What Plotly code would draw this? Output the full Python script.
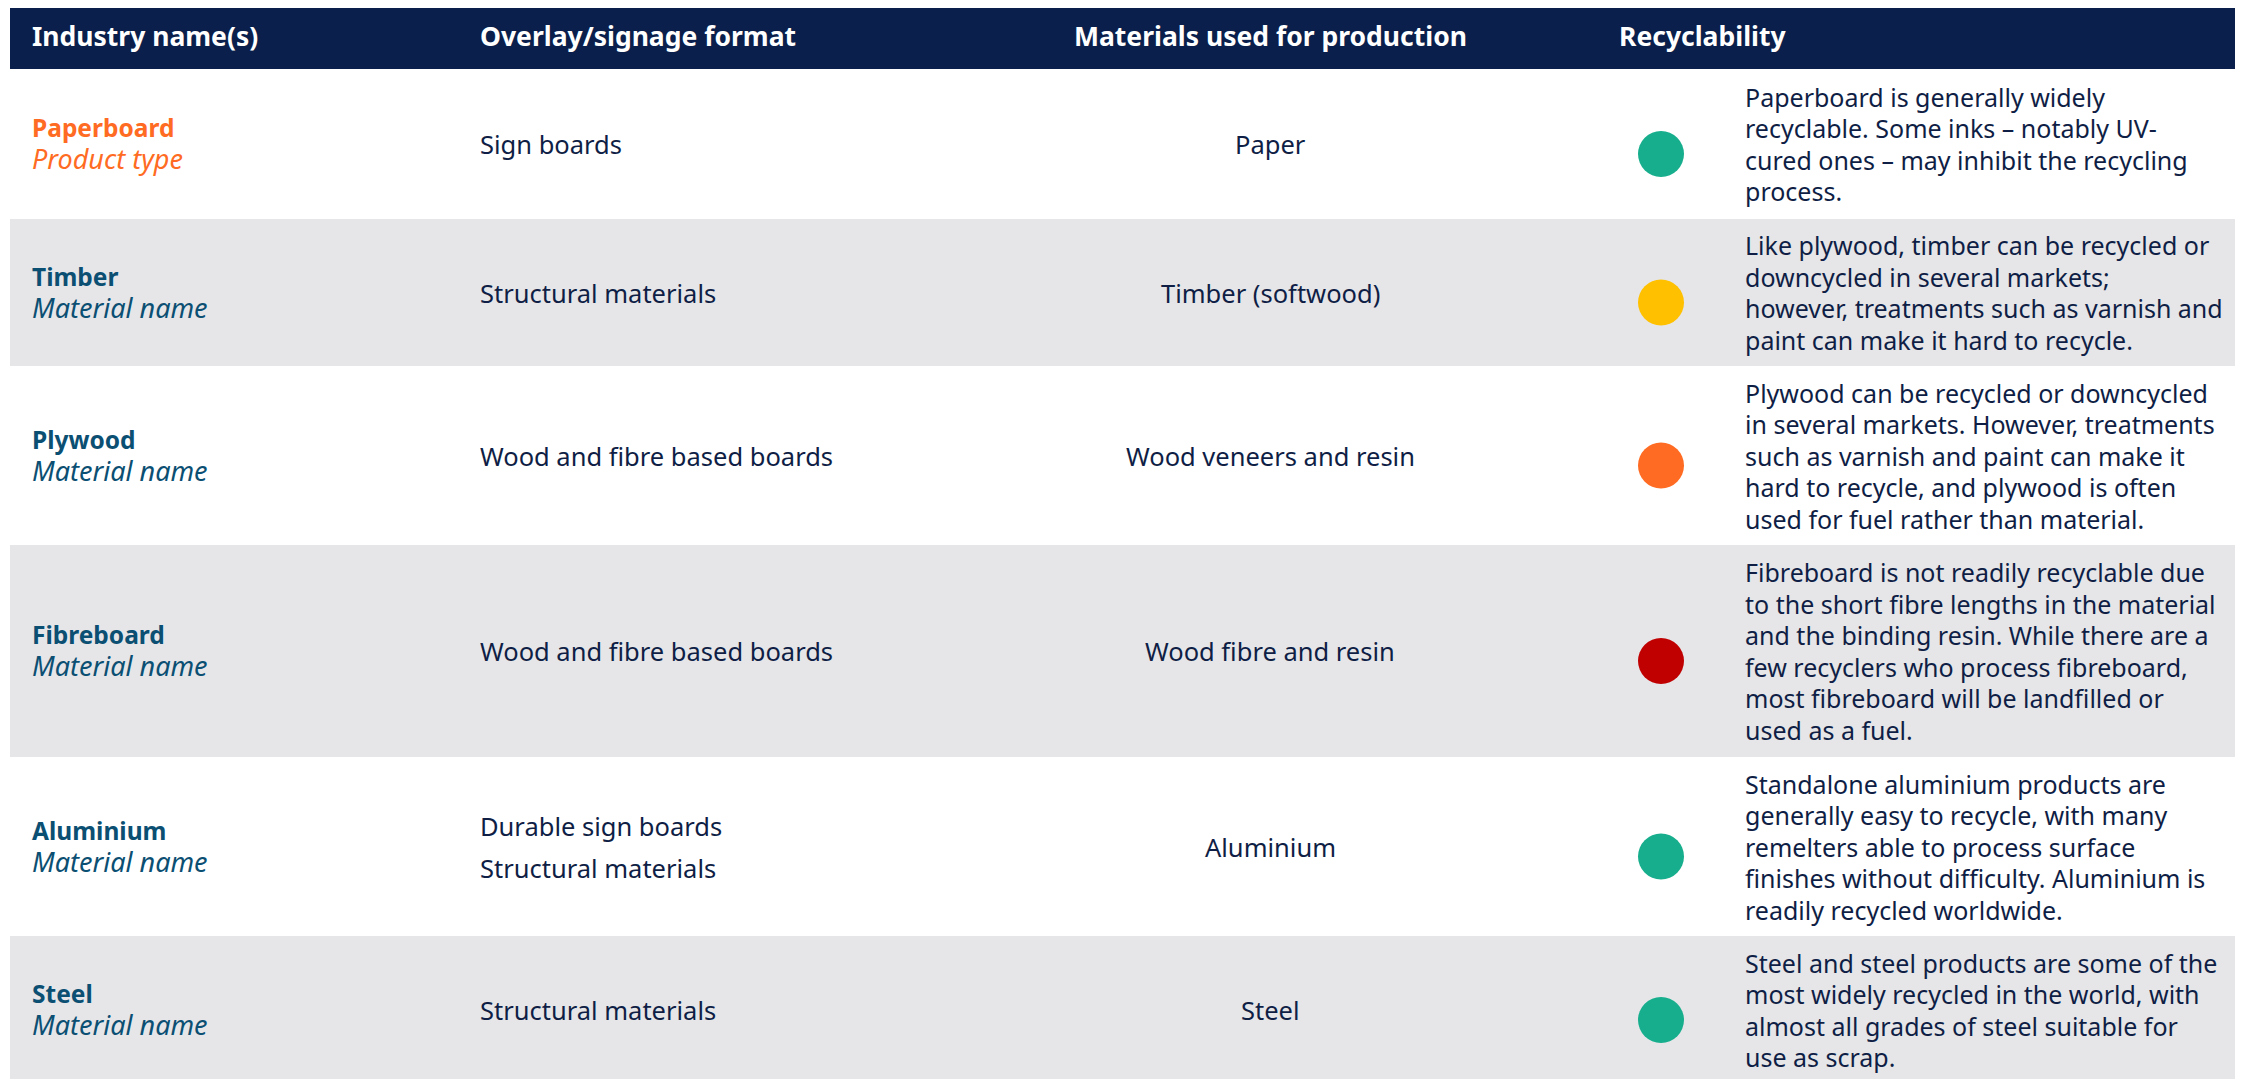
import plotly.graph_objects as go

# ---------------- data ----------------
headers = ["Industry name(s)", "Overlay/signage format", "Materials used for production", "Recyclability"]
names = ["Paperboard", "Timber", "Plywood", "Fibreboard", "Aluminium", "Steel"]
subtitles = ["Product type", "Material name", "Material name", "Material name", "Material name", "Material name"]
formats = [
    ["Sign boards"],
    ["Structural materials"],
    ["Wood and fibre based boards"],
    ["Wood and fibre based boards"],
    ["Durable sign boards", "Structural materials"],
    ["Structural materials"],
]
materials = ["Paper", "Timber (softwood)", "Wood veneers and resin", "Wood fibre and resin", "Aluminium", "Steel"]
ratings = ["green", "amber", "orange", "red", "green", "green"]
descriptions = [
    ["Paperboard is generally widely", "recyclable. Some inks \u2013 notably UV-",
     "cured ones \u2013 may inhibit the recycling", "process."],
    ["Like plywood, timber can be recycled or", "downcycled in several markets;",
     "however, treatments such as varnish and", "paint can make it hard to recycle."],
    ["Plywood can be recycled or downcycled", "in several markets. However, treatments",
     "such as varnish and paint can make it", "hard to recycle, and plywood is often",
     "used for fuel rather than material."],
    ["Fibreboard is not readily recyclable due", "to the short fibre lengths in the material",
     "and the binding resin. While there are a", "few recyclers who process fibreboard,",
     "most fibreboard will be landfilled or", "used as a fuel."],
    ["Standalone aluminium products are", "generally easy to recycle, with many",
     "remelters able to process surface", "finishes without difficulty. Aluminium is",
     "readily recycled worldwide."],
    ["Steel and steel products are some of the", "most widely recycled in the world, with",
     "almost all grades of steel suitable for", "use as scrap."],
]
highlight_row = 0  # the "Product type" row

# ---------------- layout / style ----------------
W, H = 2243, 1079
PAGE_OFF = 8  # browser body margin: axis units == page pixels
row_edges = [69, 219, 366, 545, 757, 936, 1084]
header_top = 7
table_left = 10
col_x = [30, 478, 1270, 1617]
dot_x = 1661
desc_x = 1743
dot_offset = 10
para_gap = 42
line_gap = 31.5

FONT = "Noto Sans"
NAVY = "#0A1F4B"
TEXT = "#0F1E45"
TEAL = "#0B4F73"
ORANGE = "#FF6B22"
GREY = "#E6E6E9"
rating_colors = {"green": "#16AE8C", "amber": "#FFC000", "orange": "#FF6B22", "red": "#C00000"}

fig = go.Figure()
shapes = []
annotations = []

# header band
shapes.append(dict(type="rect", xref="x", yref="y", x0=table_left, x1=W + 20, y0=header_top, y1=row_edges[0],
                   fillcolor=NAVY, line_width=0, layer="below"))
header_mid = (header_top + row_edges[0]) / 2 - 2
for i, h in enumerate(headers):
    annotations.append(dict(x=col_x[i], y=header_mid, xref="x", yref="y", text="<b>%s</b>" % h,
                            xanchor="center" if i == 2 else "left", yanchor="middle", showarrow=False,
                            font=dict(family=FONT, size=26.5, color="white")))

centers = []
for r in range(len(names)):
    y0, y1 = row_edges[r], row_edges[r + 1]
    c = (y0 + y1) / 2
    centers.append(c)
    if r % 2 == 1:
        shapes.append(dict(type="rect", xref="x", yref="y", x0=table_left, x1=W + 20, y0=y0, y1=y1,
                           fillcolor=GREY, line_width=0, layer="below"))
    ncol = ORANGE if r == highlight_row else TEAL
    annotations.append(dict(x=col_x[0], y=c, xref="x", yref="y",
                            text="<b>%s</b><br><span style=\"font-size:27px\"><i>%s</i></span>"
                                 % (names[r], subtitles[r]),
                            align="left", xanchor="left", yanchor="middle", showarrow=False,
                            font=dict(family=FONT, size=24.5, color=ncol)))
    nf = len(formats[r])
    for k, f in enumerate(formats[r]):
        yy = c + (k - (nf - 1) / 2) * para_gap
        annotations.append(dict(x=col_x[1], y=yy, xref="x", yref="y", text=f,
                                xanchor="left", yanchor="middle", showarrow=False,
                                font=dict(family=FONT, size=25.5, color=TEXT)))
    annotations.append(dict(x=col_x[2], y=c, xref="x", yref="y", text=materials[r],
                            xanchor="center", yanchor="middle", showarrow=False,
                            font=dict(family=FONT, size=25.5, color=TEXT)))
    nl = len(descriptions[r])
    for k, line in enumerate(descriptions[r]):
        yy = c + (k - (nl - 1) / 2) * line_gap
        annotations.append(dict(x=desc_x, y=yy, xref="x", yref="y", text=line,
                                align="left", xanchor="left", yanchor="middle", showarrow=False,
                                font=dict(family=FONT, size=25, color=TEXT)))

fig.add_trace(go.Scatter(
    x=[dot_x] * len(ratings), y=[c + dot_offset for c in centers], mode="markers",
    marker=dict(size=46, color=[rating_colors[v] for v in ratings], line_width=0),
    hoverinfo="skip", showlegend=False))

fig.update_layout(
    width=W, height=H, margin=dict(l=0, r=0, t=0, b=0),
    paper_bgcolor="white", plot_bgcolor="white",
    xaxis=dict(range=[PAGE_OFF, W + PAGE_OFF], visible=False, fixedrange=True),
    yaxis=dict(range=[H + PAGE_OFF, PAGE_OFF], visible=False, fixedrange=True),
    shapes=shapes, annotations=annotations, showlegend=False,
)
fig.write_html("out.html")
